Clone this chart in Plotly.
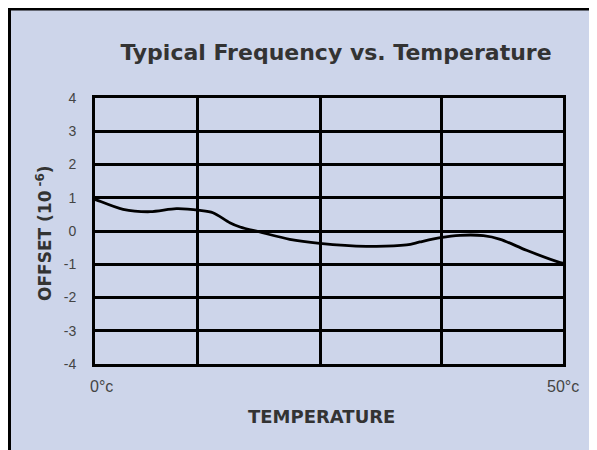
import plotly.graph_objects as go

# Data
temp_c = [0, 0.2, 3.0, 5.9, 8.7, 11.2, 12.6, 14.4, 15.5, 17.6, 20.8, 24.0, 29.0,
          33.3, 34.7, 36.9, 39.0, 41.5, 43.3, 46.1, 49.7, 50]
offset = [0.95, 0.93, 0.65, 0.58, 0.67, 0.62, 0.55, 0.25, 0.12, -0.03, -0.25, -0.37, -0.46,
          -0.42, -0.33, -0.2, -0.13, -0.14, -0.25, -0.58, -0.95, -0.97]
x_grid = [0, 10.9, 24.1, 37.0, 50]
y_ticks = [-4, -3, -2, -1, 0, 1, 2, 3, 4]
x_labels = ["0°c", "50°c"]
x_label_pos = [0, 50]

BG = "#cdd5ea"

# Figure sits inside the page's 8px body margin (white band above/left of frame)
W, H = 589, 442
L, R, T, B = 87, 34, 90, 86
PW, PH = W - L - R, H - T - B

fig = go.Figure()
fig.add_trace(go.Scatter(
    x=temp_c, y=offset, mode="lines",
    line=dict(color="black", width=2.8, shape="spline", smoothing=0.8),
    hoverinfo="skip", showlegend=False,
))

fig.update_layout(
    width=W, height=H,
    margin=dict(l=L, r=R, t=T, b=B),
    paper_bgcolor=BG, plot_bgcolor=BG,
    font=dict(family="Liberation Sans, Arial, sans-serif", color="#3a3a3a", size=14),
    title=dict(text="<b>Typical Frequency vs. Temperature</b>",
               font=dict(family="DejaVu Sans, sans-serif", size=22, color="#333333"),
               x=(328 - L) / PW, xref="paper", xanchor="center",
               y=1 - 44 / H, yref="container", yanchor="middle"),
    showlegend=False,
)
fig.update_xaxes(
    range=[0, 50], tickvals=x_grid, showticklabels=False,
    showgrid=True, gridcolor="black", gridwidth=3,
    showline=True, linecolor="black", linewidth=3, mirror=True,
    zeroline=False, ticks="",
)
fig.update_yaxes(
    range=[-4, 4], tickvals=y_ticks, ticktext=[str(v) for v in y_ticks],
    showgrid=True, gridcolor="black", gridwidth=3,
    showline=True, linecolor="black", linewidth=3, mirror=True,
    zeroline=False, ticks="", ticklabelstandoff=13,
    tickfont=dict(size=14, color="#444444"),
)

for lbl, pos, anc in zip(x_labels, x_label_pos, ["left", "center"]):
    fig.add_annotation(x=pos, xref="x", y=-22 / PH, yref="paper", text=lbl,
                       showarrow=False, xanchor=anc, yanchor="middle",
                       xshift=-7 if anc == "left" else 0,
                       font=dict(size=16, color="#444444"))

fig.add_annotation(x=(313.5 - L) / PW, xref="paper", y=-52 / PH, yref="paper",
                   text="<b>TEMPERATURE</b>", showarrow=False, yanchor="middle",
                   font=dict(family="DejaVu Sans, sans-serif", size=18, color="#333333"))
fig.add_annotation(x=(36 - L) / PW, xref="paper", y=(PH + T - 225) / PH, yref="paper",
                   text="<b>OFFSET (10<sup> -6</sup>)</b>", showarrow=False,
                   textangle=-90, xanchor="center", yanchor="middle",
                   font=dict(family="DejaVu Sans, sans-serif", size=17, color="#333333"))

# Black frame of the picture on top and left
fig.add_shape(type="line", xref="paper", yref="paper",
              x0=(0 - L) / PW, x1=(W - L) / PW, y0=1 + (T - 1) / PH, y1=1 + (T - 1) / PH,
              line=dict(color="black", width=3))
fig.add_shape(type="line", xref="paper", yref="paper",
              x0=(1.5 - L) / PW, x1=(1.5 - L) / PW, y0=-B / PH, y1=1 + T / PH,
              line=dict(color="black", width=3))

fig.write_html("out.html")
